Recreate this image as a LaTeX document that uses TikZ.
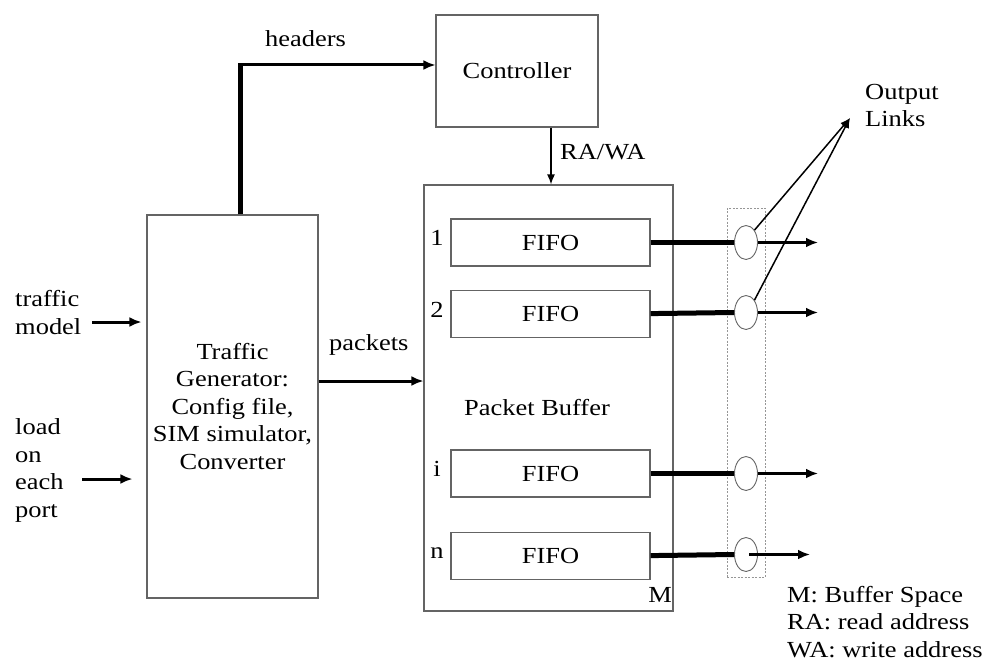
\documentclass[tikz,border=0pt]{standalone}
\usepackage{fontspec}
\setmainfont{Liberation Serif}[FakeStretch=1.15]
\usepackage{tikz}
\usetikzlibrary{arrows.meta,positioning,calc,shapes.geometric}
\definecolor{boxgray}{RGB}{100,100,100}
\definecolor{dotgray}{RGB}{150,150,150}
\tikzset{
  blk/.style   ={rectangle, draw=boxgray, line width=1.1pt, inner sep=0pt},
  fifo/.style  ={blk, minimum width=199pt, minimum height=47pt},
  port/.style  ={ellipse, draw=boxgray, line width=0.9pt, minimum width=23pt,
                 minimum height=34pt, inner sep=0pt},
  portbox/.style={rectangle, draw=dotgray, line width=0.8pt,
                 dash pattern=on 2pt off 1.5pt, inner sep=0pt},
  lbl/.style   ={inner sep=0pt, anchor=base west, align=left},
  feed/.style  ={line width=5pt},
  flow/.style  ={-{Latex[length=12pt,width=10pt]}, line width=3pt},
  link/.style  ={-{Latex[length=10pt,width=8pt]}, line width=1.5pt}
}
\begin{document}
\begin{tikzpicture}[x=1pt, y=-1pt, font=\fontsize{23}{27.5}\selectfont]
  \useasboundingbox (0,0) rectangle (995,663);

  \node[blk, minimum width=162pt, minimum height=112pt] (ctrl) at (517,71) {Controller};
  \node[blk, minimum width=171pt, minimum height=383pt, align=center] (tgen) at (232.5,406.5)
       {Traffic\\Generator:\\Config file,\\SIM simulator,\\Converter};
  \node[blk, minimum width=249pt, minimum height=426pt] (pbuf) at (548.5,398) {};
  \node[inner sep=0pt, anchor=base] (pblbl) at (537,415) {Packet Buffer};
  \node[inner sep=0pt, anchor=base] (mlbl) at (660,602) {M};

  \node[fifo] (fifo1) at (550.5,242.5) {FIFO};
  \node[fifo, below=23pt of fifo1] (fifo2) {FIFO};
  \node[fifo] (fifoi) at (550.5,473.5) {FIFO};
  \node[fifo, below=34pt of fifoi] (fifon) {FIFO};
  \node[inner sep=0pt, anchor=base] (lab1) at (437,245) {1};
  \node[inner sep=0pt, anchor=base] (lab2) at (437,317) {2};
  \node[inner sep=0pt, anchor=base] (labi) at (437,476) {i};
  \node[inner sep=0pt, anchor=base] (labn) at (437,558) {n};

  \node[portbox, minimum width=38pt, minimum height=369pt] (ports) at (746,392.5) {};
  \node[port] (port1) at (746,242.5) {};
  \node[port] (port2) at (746,312.5) {};
  \node[port] (porti) at (746,473.5) {};
  \node[port] (portn) at (746,554.5) {};

  \node[lbl] (hdrlbl) at (265,47) {headers};
  \node[lbl] (rawa) at (560,160) {RA/WA};
  \node[lbl] (pktlbl) at (329,350) {packets};
  \node[lbl] (tmod) at (15,334) {traffic\\model};
  \node[lbl] (lport) at (15,517) {load\\on\\each\\port};
  \node[lbl] (outl) at (865,127) {Output\\Links};
  \node[lbl] (legend) at (787,657) {M: Buffer Space\\RA: read address\\WA: write address};

  \coordinate (hbend) at (240,65);
  \coordinate (tin) at (92,322);
  \coordinate (lin) at (82,479);
  \coordinate (olk) at (850,118);
  \coordinate (out1) at (818,242.5);
  \coordinate (out2) at (818,312.5);
  \coordinate (outi) at (818,473.5);
  \coordinate (outn) at (810,554.5);

  % generator to controller and buffer
  \draw[feed] ($(tgen.north)+(7.5,0)$) -- ($(hbend)+(0,-1.5)$);
  \draw[flow] (hbend) -- ($(ctrl.west)+(0,-6)$);
  \draw[link] ($(ctrl.south)+(34,0)$) -- ($(pbuf.north)+(2.5,0)$);
  \draw[flow] ($(tgen.east)+(0,-25.5)$) -- ($(pbuf.west)+(0,-17)$);
  \draw[flow] (tin) -- ($(tgen.west)+(-5,-84.5)$);
  \draw[flow] (lin) -- ($(tgen.west)+(-14,72.5)$);

  % fifos to output ports
  \draw[feed] (fifo1.east) -- (port1.west);
  \draw[feed] (fifo2.east) -- (port2.west);
  \draw[feed] (fifoi.east) -- (porti.west);
  \draw[feed] (fifon.east) -- (portn.west);
  \draw[flow] (port1.east) -- (out1);
  \draw[flow] (port2.east) -- (out2);
  \draw[flow] (porti.east) -- (outi);
  \draw[flow] ($(portn.center)+(3,0)$) -- (outn);
  \draw[link] (port1.north east) -- (olk);
  \draw[link] (port2.north east) -- (olk);
\end{tikzpicture}
\end{document}
